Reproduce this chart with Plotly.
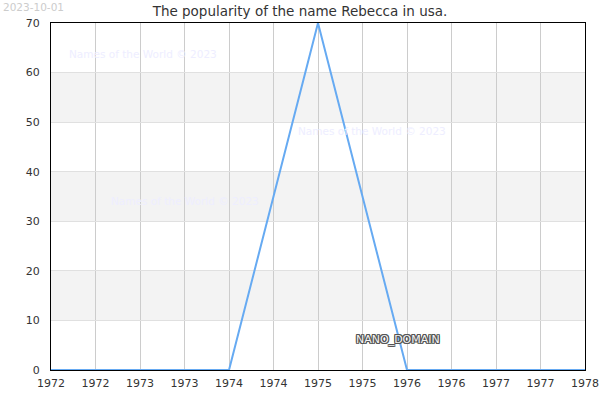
import plotly.graph_objects as go

years = [1972, 1973, 1974, 1975, 1976, 1977, 1978]
popularity = [0, 0, 0, 70, 0, 0, 0]

tick_vals = [1972 + 0.5 * i for i in range(13)]
tick_text = [str(int(t)) for t in tick_vals]
band_ranges = [(10, 20), (30, 40), (50, 60)]

title = "The popularity of the name Rebecca in usa."
watermark = "Names of the World © 2023"

fig = go.Figure()
fig.add_trace(go.Scatter(x=years, y=popularity, mode="lines",
                         line=dict(color="#66aaf2", width=2),
                         hoverinfo="x+y"))

for lo, hi in band_ranges:
    fig.add_shape(type="rect", xref="paper", yref="y", x0=0, x1=1, y0=lo, y1=hi,
                  fillcolor="#f3f3f3", line=dict(width=0), layer="below")

# faint watermarks
for wx, wy in [(1973.03, 63.7), (1975.61, 48.2), (1973.51, 34.1)]:
    fig.add_annotation(x=wx, y=wy, text=watermark, showarrow=False,
                       font=dict(size=10.5, color="#eeeeff"))

outline = ", ".join(f"{dx}px {dy}px 0 #555" for dx in (-1, 0, 1) for dy in (-1, 0, 1)
                    if dx or dy)
fig.add_annotation(x=1975.9, y=6.2, text="NANO_DOMAIN", showarrow=False,
                   font=dict(size=11, color="#f4f4f4", shadow=outline))

fig.add_annotation(xref="paper", yref="paper", x=-0.094, y=1.047, xanchor="left",
                   yanchor="middle", text="2023-10-01", showarrow=False,
                   font=dict(size=10.5, color="#cccccc"))

fig.update_layout(
    width=600, height=400,
    margin=dict(l=51, r=15, t=23, b=30),
    paper_bgcolor="white", plot_bgcolor="white",
    font=dict(family="DejaVu Sans", size=11, color="#333333"),
    title=dict(text=title, x=0.5, xref="container", y=0.972, yref="container",
               xanchor="center", yanchor="middle",
               font=dict(size=13.5, color="#333333")),
    showlegend=False,
)
fig.update_xaxes(range=[1972, 1978], tickvals=tick_vals, ticktext=tick_text,
                 showgrid=True, gridcolor="#cccccc", gridwidth=1,
                 showline=True, linecolor="black", linewidth=1, mirror=True,
                 zeroline=False, ticks="", ticklabelstandoff=3, automargin=False)
fig.update_yaxes(range=[0, 70], dtick=10, showgrid=True, gridcolor="#e0e0e0",
                 showline=True, linecolor="black", linewidth=1, mirror=True,
                 zeroline=False, ticks="", ticklabelstandoff=8, automargin=False)

# page body has a default 8px margin; drop it so the figure sits at the window corner
fig.write_html("out.html", config={"displayModeBar": False},
               post_script="document.body.style.margin = '0px';")
